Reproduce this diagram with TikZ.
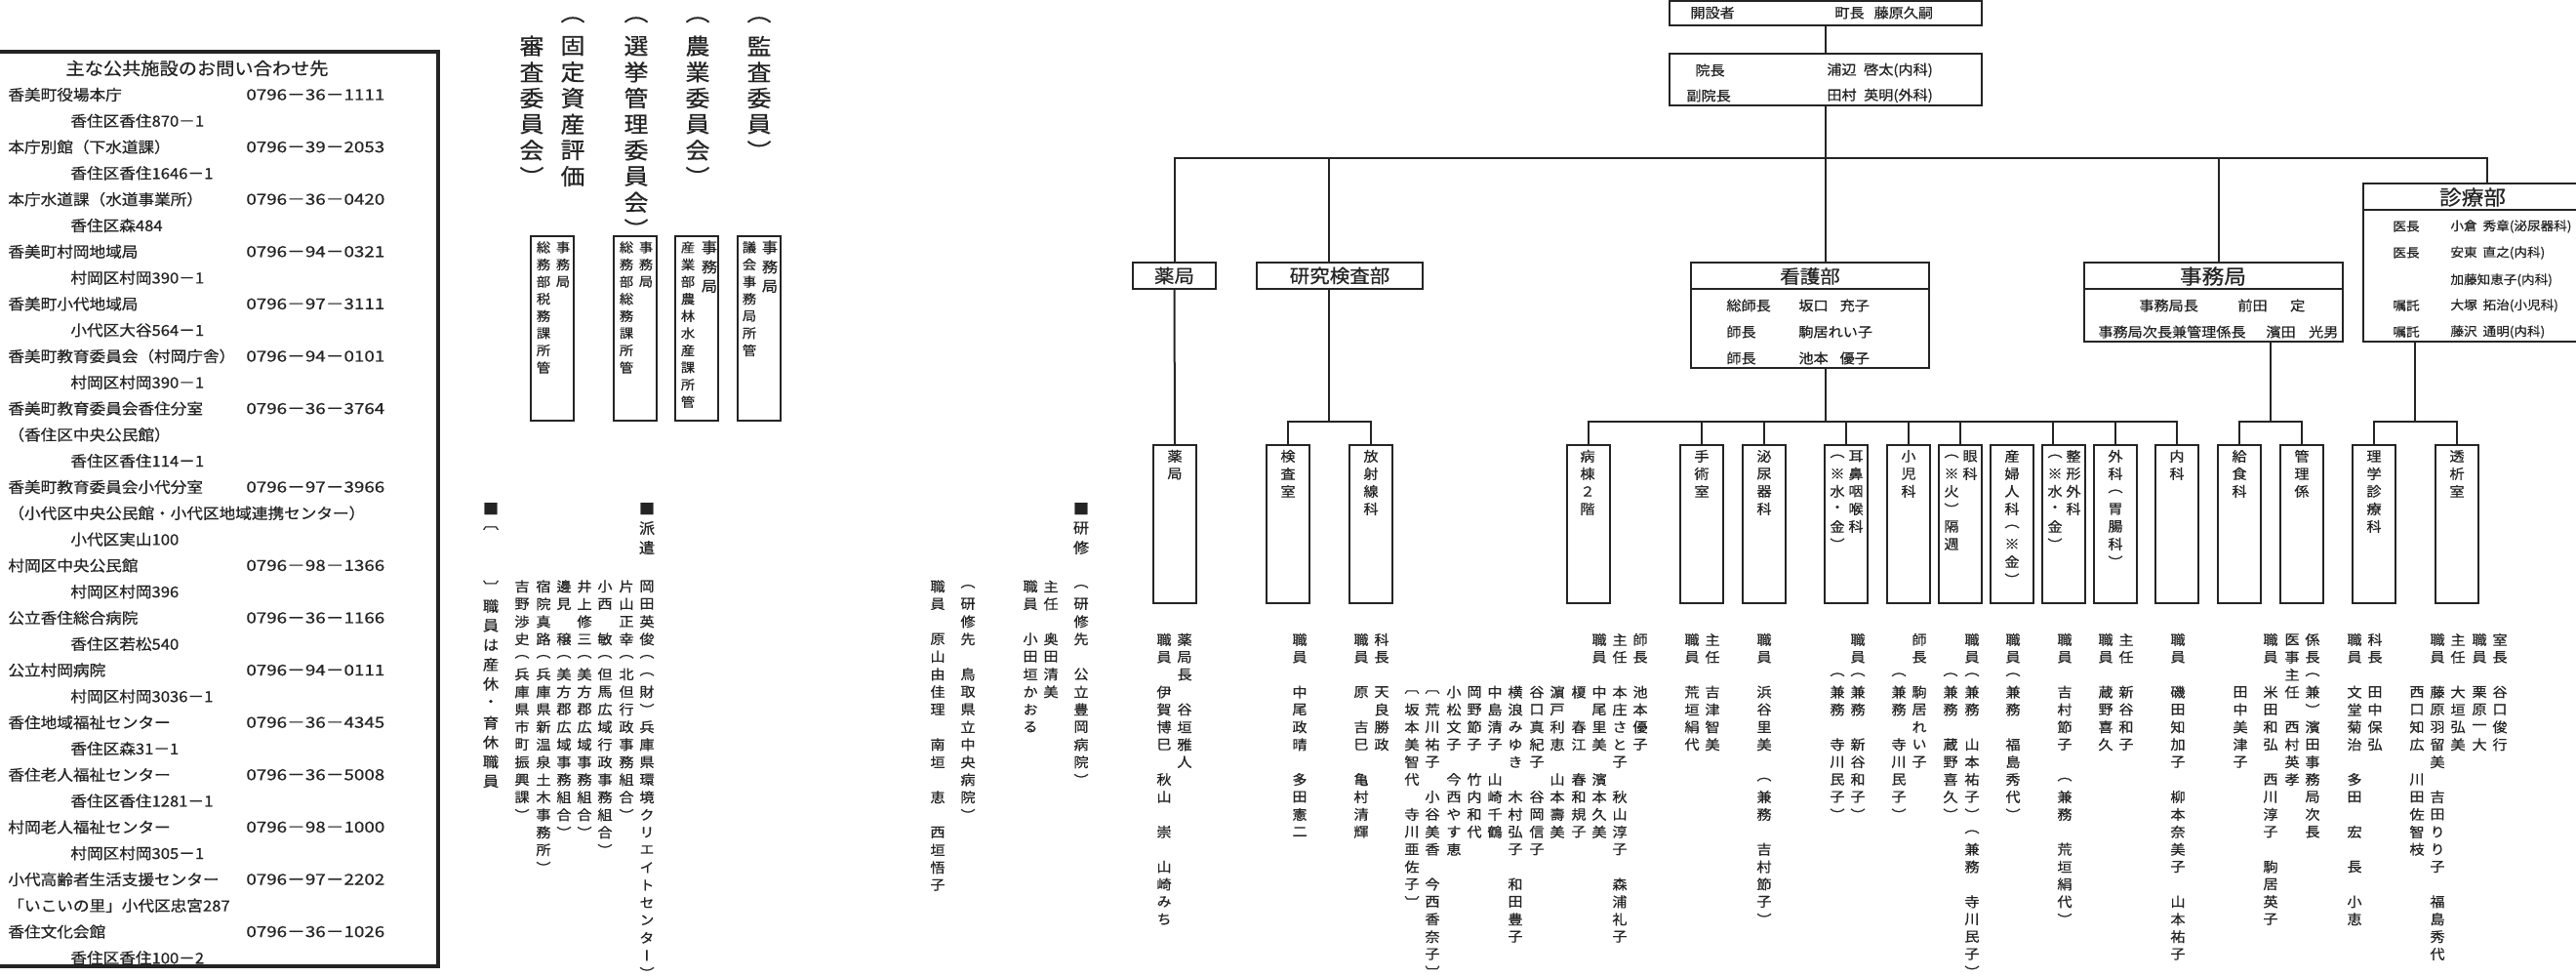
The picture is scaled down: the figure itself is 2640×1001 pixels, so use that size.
\documentclass[tikz,border=0pt]{standalone}
\usepackage{fontspec}
\setmainfont[FakeStretch=1.08,FakeBold=0.6]{Noto Sans CJK JP}
\newfontfamily\vjp[FakeStretch=1.08,FakeBold=0.6,RawFeature=+vert]{Noto Sans CJK JP}
\newfontfamily\telfont[FakeStretch=1.22,FakeBold=0.6]{Noto Sans CJK JP}
\usetikzlibrary{positioning,calc}
\definecolor{ink}{RGB}{36,36,36}

% tategaki column: one character per cell, read top to bottom
\newlength\vpitch
\newlength\vcolw
\makeatletter
\newcommand\vs[1]{\vtop{\offinterlineskip\vs@#1\relax}}
\def\vs@#1{\ifx\relax#1\else\vbox to\vpitch{\vss\hbox to\vcolw{\hss#1\hss}\vss}\expandafter\vs@\fi}
\newcommand\vsx[1]{\expandafter\vs\expandafter{#1}}
\makeatother
\newcommand\vfont[3]{\vjp\fontsize{#1}{#1}\selectfont\setlength\vpitch{#2}\setlength\vcolw{#3}}

\begin{document}
\begin{tikzpicture}[
  x=0.5pt, y=-0.5pt, color=ink,
  frame/.style={draw=ink, line width=2pt},
  wire/.style={draw=ink, line width=1pt},
  topbox/.style={draw=ink, line width=1.2pt, anchor=north west, inner sep=0pt, outer sep=0pt},
  hdbox/.style={draw=ink, line width=1.3pt, anchor=north west, inner sep=0pt, outer sep=0pt, font=\fontsize{9.5pt}{11pt}\selectfont},
  lowbox/.style={draw=ink, line width=1.3pt, anchor=north west, inner sep=0pt, outer sep=0pt, minimum width=22pt, minimum height=81pt},
  cbox/.style={draw=ink, line width=1.3pt, anchor=north west, inner sep=0pt, outer sep=0pt, minimum width=22pt, minimum height=94.5pt},
  lsttitle/.style={inner sep=0pt, font=\fontsize{8.9pt}{10pt}\selectfont},
  lst/.style={anchor=west, inner sep=0pt, font=\fontsize{7.7pt}{9pt}\selectfont},
  tel/.style={anchor=west, inner sep=0pt, font=\telfont\fontsize{7.7pt}{9pt}\selectfont},
  row/.style={anchor=west, inner sep=0pt, font=\fontsize{7pt}{8pt}\selectfont},
  rowsm/.style={anchor=west, inner sep=0pt, font=\fontsize{6.3pt}{7pt}\selectfont},
  ttl/.style={inner sep=0pt, font=\fontsize{9.5pt}{11pt}\selectfont},
  ttlb/.style={inner sep=0pt, font=\fontsize{10.5pt}{12pt}\selectfont},
  vcomm/.style={inner sep=0pt, anchor=north, font=\vfont{11.5pt}{13.35pt}{13pt}},
  vcbox/.style={inner sep=0pt, anchor=north, font=\vfont{6.6pt}{8.8pt}{10pt}},
  vcboxb/.style={inner sep=0pt, anchor=north, font=\vfont{7.5pt}{10pt}{10pt}},
  vleg/.style={inner sep=0pt, anchor=north, font=\vfont{7.5pt}{9.975pt}{11pt}},
  vname/.style={inner sep=0pt, anchor=north, font=\vfont{7pt}{9pt}{10.65pt}},
  vlab/.style={inner sep=0pt, anchor=north, font=\vfont{7pt}{9pt}{9.5pt}},
  vstaff/.style={inner sep=0pt, anchor=north, font=\vfont{7pt}{8.95pt}{10.65pt}},
]
\useasboundingbox (0,0) rectangle (2640,1001);

% ---------------------------------------------------------------- contact list
\draw[frame] (-4,53) rectangle (449,990);
\node[lsttitle] (list-title) at (202,70) {主な公共施設のお問い合わせ先};
\foreach \i/\x/\txt in {1/8/香美町役場本庁, 2/72/香住区香住870－1, 3/8/本庁別館（下水道課）,
  4/72/香住区香住1646－1, 5/8/本庁水道課（水道事業所）, 6/72/香住区森484, 7/8/香美町村岡地域局,
  8/72/村岡区村岡390－1, 9/8/香美町小代地域局, 10/72/小代区大谷564－1,
  11/8/香美町教育委員会（村岡庁舎）, 12/72/村岡区村岡390－1, 13/8/香美町教育委員会香住分室,
  14/8/（香住区中央公民館）, 15/72/香住区香住114－1, 16/8/香美町教育委員会小代分室,
  17/8/（小代区中央公民館・小代区地域連携センター）, 18/72/小代区実山100, 19/8/村岡区中央公民館,
  20/72/村岡区村岡396, 21/8/公立香住総合病院, 22/72/香住区若松540, 23/8/公立村岡病院,
  24/72/村岡区村岡3036－1, 25/8/香住地域福祉センター, 26/72/香住区森31－1, 27/8/香住老人福祉センター,
  28/72/香住区香住1281－1, 29/8/村岡老人福祉センター, 30/72/村岡区村岡305－1,
  31/8/小代高齢者生活支援センター, 32/8/「いこいの里」小代区忠宮287, 33/8/香住文化会館, 34/72/香住区香住100－2}
  \node[lst] (list-\i) at (\x,{97+26.8*(\i-1)}) {\txt};
\foreach \i/\p in {1/0796－36－1111, 3/0796－39－2053, 5/0796－36－0420, 7/0796－94－0321,
  9/0796－97－3111, 11/0796－94－0101, 13/0796－36－3764, 16/0796－97－3966, 19/0796－98－1366,
  21/0796－36－1166, 23/0796－94－0111, 25/0796－36－4345, 27/0796－36－5008, 29/0796－98－1000,
  31/0796－97－2202, 33/0796－36－1026}
  \node[tel] (tel-\i) at (252,{97+26.8*(\i-1)}) {\p};

% ---------------------------------------------------------------- committees
\node[vcomm] (com-kansa)  at (778,6.65)  {\vs{（監査委員）}};
\node[vcomm] (com-nogyo)  at (715,6.65)  {\vs{（農業委員会）}};
\node[vcomm] (com-senkyo) at (652,6.65)  {\vs{（選挙管理委員会）}};
\node[vcomm] (com-kotei)  at (587,6.65)  {\vs{（固定資産評価}};
\node[vcomm] (com-kotei2) at (545,33.35) {\vs{審査委員会）}};

\node[cbox] (cb-kotei)  at (544,242) {};
\node[cbox] (cb-senkyo) at (629,242) {};
\node[cbox] (cb-nogyo)  at (692,242) {};
\node[cbox] (cb-kansa)  at (756,242) {};
\node[vcbox]  (cb-kotei-a)  at (577,244.2) {\vs{事務局}};
\node[vcbox]  (cb-kotei-b)  at (557,244.2) {\vs{総務部税務課所管}};
\node[vcbox]  (cb-senkyo-a) at (662,244.2) {\vs{事務局}};
\node[vcbox]  (cb-senkyo-b) at (642,244.2) {\vs{総務部総務課所管}};
\node[vcboxb] (cb-nogyo-a)  at (727,243)   {\vs{事務局}};
\node[vcbox]  (cb-nogyo-b)  at (705,244.2) {\vs{産業部農林水産課所管}};
\node[vcboxb] (cb-kansa-a)  at (789,243)   {\vs{事務局}};
\node[vcbox]  (cb-kansa-b)  at (768,244.2) {\vs{議会事務局所管}};

% ---------------------------------------------------------------- notes: leave, dispatch, training
\node[vleg] (leg-kyu)    at (503,510.8)  {\vs{■〔　　〕職員は産休・育休職員}};
\node[vleg] (leg-haken)  at (663,510.8)  {\vs{■派遣}};
\node[vleg] (leg-kenshu) at (1108,510.8) {\vs{■研修}};
\foreach \x/\txt in {663/岡田英俊（（財）兵庫県環境クリエイトセンター）, 642/片山正幸（北但行政事務組合）,
  620/小西　敏（但馬広域行政事務組合）, 599/井上修三（美方郡広域事務組合）,
  578/邊見　穣（美方郡広域事務組合）, 557/宿院真路（兵庫県新温泉土木事務所）,
  535/吉野渉史（兵庫県市町振興課）}
  \node[vname] (haken-\x) at (\x,591.4) {\vsx{\txt}};
\foreach \x/\txt in {1108/（研修先　公立豊岡病院）, 1077/主任　奥田清美, 1056/職員　小田垣かおる,
  992/（研修先　鳥取県立中央病院）, 961/職員　原山由佳理　南垣　恵　西垣悟子}
  \node[vname] (kenshu-\x) at (\x,591.4) {\vsx{\txt}};

% ---------------------------------------------------------------- hospital: top
\node[topbox, minimum width=160pt, minimum height=12.5pt] (kaisetsu) at (1711,1) {};
\node[row] (kaisetsu-t) at (1732,13) {開設者};
\node[row] (kaisetsu-n) at (1880,13) {町長\hspace{5pt}藤原久嗣};
\node[topbox, minimum width=160pt, minimum height=26.5pt] (incho) at (1711,55) {};
\node[row] (incho-t1) at (1737,72) {院長};
\node[row] (incho-t2) at (1728,98) {副院長};
\node[row] (incho-n1) at (1872,72) {浦辺\hspace{3.75pt}啓太(内科)};
\node[row] (incho-n2) at (1872,98) {田村\hspace{3.75pt}英明(外科)};

% ---------------------------------------------------------------- departments
\node[hdbox, minimum width=42.5pt, minimum height=13.5pt] (hd-yk) at (1161,269) {薬局};
\node[hdbox, minimum width=85pt, minimum height=13.5pt] (hd-kb) at (1288,269) {研究検査部};

\node[hdbox, minimum width=122pt, minimum height=54pt] (kango) at (1733,269) {};
\draw[line width=1.3pt] ([yshift=-13.5pt]kango.north west) -- ([yshift=-13.5pt]kango.north east);
\node[ttl] (kango-t) at (1855,283) {看護部};
\node[row] (kango-r1) at (1769,313) {総師長};
\node[row] (kango-r2) at (1769,340) {師長};
\node[row] (kango-r3) at (1769,367) {師長};
\node[row] (kango-n1) at (1843,313) {坂口\hspace{6pt}充子};
\node[row] (kango-n2) at (1843,340) {駒居れい子};
\node[row] (kango-n3) at (1843,367) {池本\hspace{6pt}優子};

\node[hdbox, minimum width=132.5pt, minimum height=40.5pt] (jimu) at (2136,269) {};
\draw[line width=1.3pt] ([yshift=-13.5pt]jimu.north west) -- ([yshift=-13.5pt]jimu.north east);
\node[ttlb] (jimu-t) at (2268,283) {事務局};
\node[row] (jimu-r1) at (2192,313) {事務局長};
\node[row] (jimu-n1) at (2293,313) {前田\hspace{11.75pt}定};
\node[row] (jimu-r2) at (2150,340) {事務局次長兼管理係長};
\node[row] (jimu-n2) at (2322,340) {濱田\hspace{6.75pt}光男};

\node[hdbox, minimum width=112pt, minimum height=81pt] (shinryo) at (2422,188) {};
\draw[line width=1.3pt] ([yshift=-13.5pt]shinryo.north west) -- ([yshift=-13.5pt]shinryo.north east);
\node[ttlb] (shinryo-t) at (2534,202) {診療部};
\node[rowsm] (shinryo-r1) at (2452,232) {医長};
\node[rowsm] (shinryo-r2) at (2452,259) {医長};
\node[rowsm] (shinryo-r4) at (2452,313) {嘱託};
\node[rowsm] (shinryo-r5) at (2452,340) {嘱託};
\node[rowsm] (shinryo-n1) at (2511,232) {小倉\hspace{3pt}秀章(泌尿器科)};
\node[rowsm] (shinryo-n2) at (2511,259) {安東\hspace{3pt}直之(内科)};
\node[rowsm] (shinryo-n3) at (2511,287) {加藤知恵子(内科)};
\node[rowsm] (shinryo-n4) at (2511,313) {大塚\hspace{3pt}拓治(小児科)};
\node[rowsm] (shinryo-n5) at (2511,340) {藤沢\hspace{3pt}通明(内科)};

% ---------------------------------------------------------------- sections
\foreach \n/\x in {yk/1182, ks/1298, hs/1383, bt/1606, sj/1722, hn/1786, jb/1870, sn/1934, gn/1987,
  sf/2040, sk/2093, gk/2146, nk/2209, kc/2273, kr/2337, rg/2411, tk/2496}
  \node[lowbox] (lb-\n) at (\x,456) {};
\foreach \x/\txt in {1204/薬局, 1320/検査室, 1405/放射線科, 1627/病棟２階, 1744/手術室, 1808/泌尿器科,
  1902/耳鼻咽喉科, 1883/（※水・金）, 1956/小児科, 2019/眼科, 2000/（※火）隔週, 2062/産婦人科（※金）,
  2125/整形外科, 2106/（※水・金）, 2168/外科（胃腸科）, 2231/内科, 2295/給食科, 2359/管理係,
  2433/理学診療科, 2518/透析室}
  \node[vlab] (lbl-\x) at (\x,458) {\vsx{\txt}};

% ---------------------------------------------------------------- connectors
\coordinate (mb-e) at (2549,162);
\coordinate (kb-x) at (1362,0);
\coordinate (jm-x) at (2274,0);
\coordinate (kb-bar) at (1362,432);
\coordinate (kg-bar) at (1871,432);
\coordinate (jm-bar) at (2327,432);
\coordinate (sr-bar) at (2475,432);
\draw[wire] (kaisetsu.south) -- (incho.north);
\draw[wire] (incho.south) -- (incho.south |- kango.north);
\draw[wire] (hd-yk.north) |- (mb-e) -- (mb-e |- shinryo.north);
\draw[wire] (kb-x |- mb-e) -- (kb-x |- hd-kb.north);
\draw[wire] (jm-x |- mb-e) -- (jm-x |- jimu.north);
\draw[wire] (hd-yk.south) -- (lb-yk.north);
\draw[wire] (kb-x |- hd-kb.south) -- (kb-bar);
\draw[wire] (lb-ks.north) |- (kb-bar) -| (lb-hs.north);
\draw[wire] (kg-bar |- kango.south) -- (kg-bar);
\draw[wire] (lb-bt.north) |- (kg-bar) -| (lb-nk.north);
\foreach \n in {sj,hn,jb,sn,gn,gk} \draw[wire] (lb-\n.north) -- (lb-\n.north |- kg-bar);
\draw[wire] ([xshift=-5.5pt]lb-sk.north) -- ([xshift=-5.5pt]lb-sk.north |- kg-bar);
\draw[wire] (jm-bar |- jimu.south) -- (jm-bar);
\draw[wire] (lb-kc.north) |- (jm-bar) -| (lb-kr.north);
\draw[wire] (sr-bar |- shinryo.south) -- (sr-bar);
\draw[wire] (lb-rg.north) |- (sr-bar) -| (lb-tk.north);

% ---------------------------------------------------------------- staff
\foreach \x/\txt in {1214/薬局長　谷垣雅人, 1193/職員　伊賀博巳　秋山　崇　山崎みち,
  1332/職員　中尾政晴　多田憲二, 1416/科長　天良勝政, 1395/職員　原　吉巳　亀村清輝,
  1681/師長　池本優子, 1660/主任　本庄さと子　秋山淳子　森浦礼子, 1639/職員　中尾里美　濱本久美,
  1618/　　　榎　春江　春和規子, 1596/　　　濵戸利恵　山本壽美, 1575/　　　谷口真紀子　谷岡信子,
  1553/　　　横浪みゆき　木村弘子　和田豊子, 1532/　　　中島清子　山崎千鶴, 1511/　　　岡野節子　竹内和代,
  1490/　　　小松文子　今西やす恵, 1468/　　　〔荒川祐子　小谷美香　今西香奈子〕,
  1447/　　　〔坂本美智代　寺川亜佐子〕,
  1755/主任　吉津智美, 1734/職員　荒垣絹代, 1808/職員　浜谷里美　（兼務　吉村節子）,
  1904/職員（兼務　新谷和子）, 1883/　　（兼務　寺川民子）,
  1967/師長　駒居れい子, 1946/　　（兼務　寺川民子）,
  2021/職員（兼務　山本祐子）（兼務　寺川民子）, 1999/　　（兼務　蔵野喜久）,
  2063/職員（兼務　福島秀代）, 2116/職員　吉村節子　（兼務　荒垣絹代）,
  2179/主任　新谷和子, 2158/職員　蔵野喜久, 2232/職員　磯田知加子　柳本奈美子　山本祐子,
  2296/　　　田中美津子, 2370/係長（兼）濱田事務局次長, 2349/医事主任　西村英孝,
  2327/職員　米田和弘　西川淳子　駒居英子, 2434/科長　田中保弘, 2413/職員　文堂菊治　多田　宏　長　小恵,
  2562/室長　谷口俊行, 2541/職員　栗原一大, 2519/主任　大垣弘美,
  2498/職員　藤原羽留美　吉田りり子　福島秀代, 2477/　　　西口知広　川田佐智枝}
  \node[vstaff] (st-\x) at (\x,646.05) {\vsx{\txt}};
\end{tikzpicture}
\end{document}
